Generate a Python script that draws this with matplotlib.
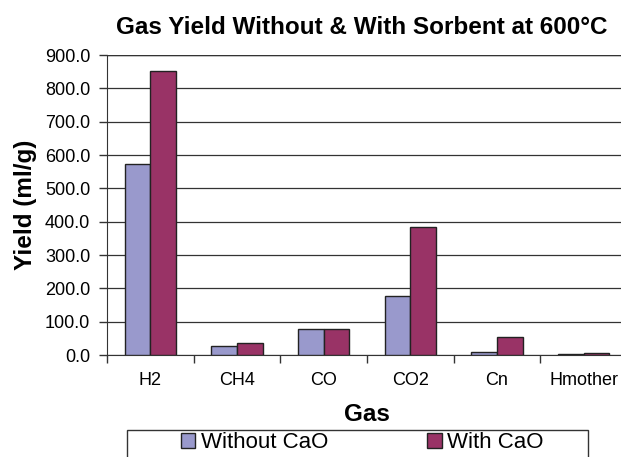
import numpy as np
import matplotlib.pyplot as plt
from matplotlib.patches import Rectangle

plt.rcParams['font.family'] = ['Liberation Sans', 'DejaVu Sans']

gases = ['H2', 'CH4', 'CO', 'CO2', 'Cn', 'Hmother']
without_cao = [573, 27, 79, 178, 10, 4]
with_cao = [853, 37, 78, 383, 53, 7]
yticks = np.arange(0, 901, 100)

col_without = '#9999CC'
col_with = '#993366'

fig = plt.figure(figsize=(6.21, 4.57), dpi=100)
ax = fig.add_axes([107 / 621, 102 / 457, 520 / 621, 300 / 457])

x = np.arange(len(gases))
w = 0.295
ax.bar(x - w / 2, without_cao, w, color=col_without, edgecolor='#222222', linewidth=1.0, label='Without CaO', zorder=3)
ax.bar(x + w / 2, with_cao, w, color=col_with, edgecolor='#222222', linewidth=1.0, label='With CaO', zorder=3)

ax.set_xlim(-0.5, len(gases) - 0.5)
ax.set_ylim(0, 900)
ax.set_yticks(yticks)
ax.set_yticklabels(['%.1f' % v for v in yticks], fontsize=13)
ax.set_xticks(x)
ax.set_xticklabels(gases, fontsize=13)
ax.set_xticks(np.arange(-0.5, len(gases), 1), minor=True)
ax.tick_params(axis='x', which='major', length=0, pad=12)
ax.tick_params(axis='x', which='minor', length=6, width=1, color='#333333')
ax.tick_params(axis='y', length=6, width=1, color='#333333', pad=6)

ax.yaxis.grid(True, color='#333333', linewidth=0.9)
ax.set_axisbelow(True)
for s in ['top', 'right']:
    ax.spines[s].set_visible(False)
ax.spines['left'].set_color('#333333')
ax.spines['bottom'].set_color('#333333')
ax.axhline(900, color='#333333', linewidth=1.0)

ax.set_title('Gas Yield Without & With Sorbent at 600°C', fontsize=17.5, fontweight='bold', pad=15, x=0.49)
ax.set_xlabel('Gas', fontsize=17.5, fontweight='bold', labelpad=10)
ax.set_ylabel('Yield (ml/g)', fontsize=17.5, fontweight='bold', labelpad=6)

# legend box at bottom (cut off by the figure edge like the original)
fig.patches.append(Rectangle((127 / 621, -0.02), (588 - 127) / 621, (457 - 430) / 457 + 0.02,
                             transform=fig.transFigure, fill=False, edgecolor='#333333', linewidth=1.0))
fig.legend(loc='upper left', bbox_to_anchor=(181 / 621, 1 - 432 / 457), ncol=2, frameon=False,
           fontsize=16, handlelength=0.65, handleheight=0.65, handletextpad=0.25, columnspacing=4.45,
           borderpad=0, borderaxespad=0)

fig.savefig('out.png', dpi=100)
